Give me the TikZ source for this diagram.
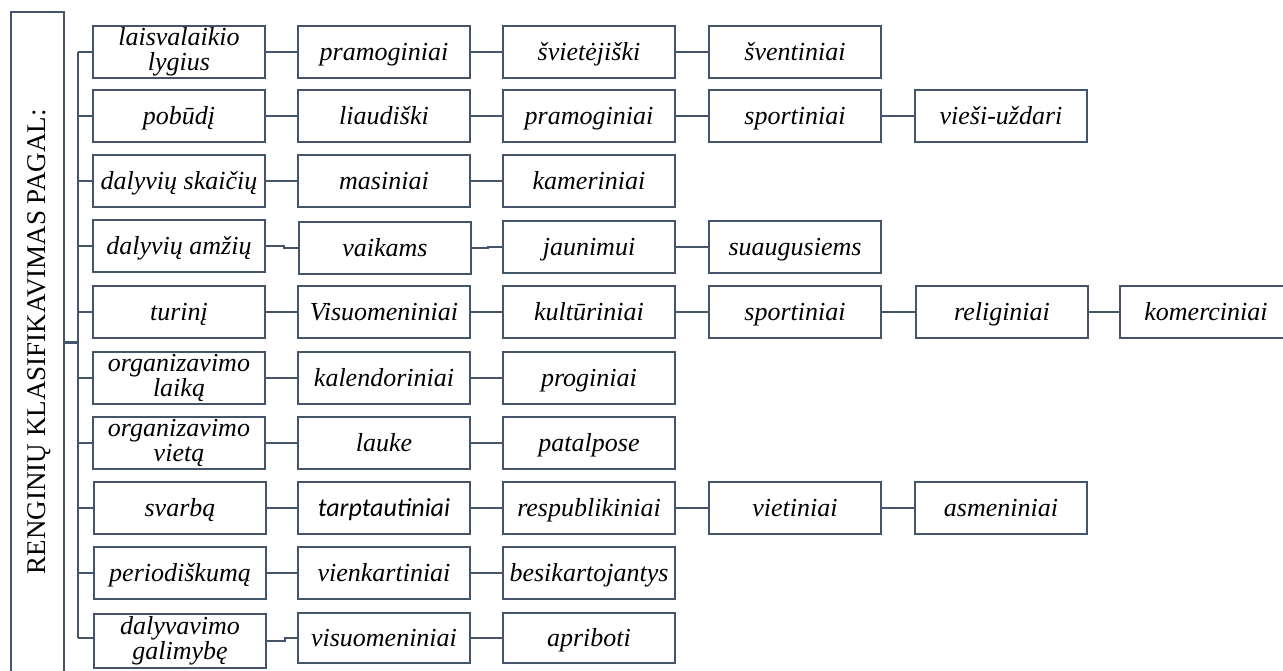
\documentclass[tikz,border=0pt]{standalone}
\usepackage{fontspec}
\setmainfont{Liberation Serif}
\newfontfamily\carlitofont{Carlito}
\definecolor{ln}{HTML}{44546A}
\tikzset{
  box/.style={draw=ln, line width=2pt, fill=white, minimum width=172pt, minimum height=52pt,
    inner sep=0pt, font=\fontsize{26pt}{25pt}\selectfont\itshape, align=center},
  one/.style={text height=22pt, text depth=6pt},
  conn/.style={draw=ln, line width=2pt},
  mainbox/.style={draw=ln, line width=2pt, minimum width=53pt, minimum height=690pt, inner sep=0pt, anchor=north west},
  mainlabel/.style={rotate=90, anchor=base, inner sep=0pt, font=\fontsize{27pt}{27pt}\selectfont},
}
\begin{document}
\begin{tikzpicture}[x=1pt,y=-1pt]
\useasboundingbox (0,0) rectangle (1283,670);

% main vertical box
\node[mainbox] (main) at (10,11) {};
\node[mainlabel] (mainlab) at (45,341.5) {RENGINIŲ KLASIFIKAVIMAS PAGAL:};

% trunk coordinates
\coordinate (t0) at (78,342);
\coordinate (t1) at (78,52);
\coordinate (t2) at (78,116);
\coordinate (t3) at (78,181);
\coordinate (t4) at (78,246);
\coordinate (t5) at (78,312);
\coordinate (t6) at (78,378);
\coordinate (t7) at (78,443);
\coordinate (t8) at (78,508);
\coordinate (t9) at (78,573);
\coordinate (t10) at (78,638);

% row 1
\node[box] (r1c1) at (179,52) {laisvalaikio\\lygius};
\node[box,one] (r1c2) at (384,52) {pramoginiai};
\node[box,one] (r1c3) at (589,52) {švietėjiški};
\node[box,one] (r1c4) at (795,52) {šventiniai};
% row 2
\node[box,one] (r2c1) at (179,116) {pobūdį};
\node[box,one] (r2c2) at (384,116) {liaudiški};
\node[box,one] (r2c3) at (589,116) {pramoginiai};
\node[box,one] (r2c4) at (795,116) {sportiniai};
\node[box,one] (r2c5) at (1001,116) {vieši-uždari};
% row 3
\node[box,one] (r3c1) at (179,181) {dalyvių skaičių};
\node[box,one] (r3c2) at (384,181) {masiniai};
\node[box,one] (r3c3) at (589,181) {kameriniai};
% row 4
\node[box,one] (r4c1) at (179,246) {dalyvių amžių};
\node[box,one] (r4c2) at (385,248) {vaikams};
\node[box,one] (r4c3) at (589,247) {jaunimui};
\node[box,one] (r4c4) at (795,247) {suaugusiems};
% row 5
\node[box,one] (r5c1) at (179,312) {turinį};
\node[box,one] (r5c2) at (384,312) {Visuomeniniai};
\node[box,one] (r5c3) at (589,312) {kultūriniai};
\node[box,one] (r5c4) at (795,312) {sportiniai};
\node[box,one] (r5c5) at (1002,312) {religiniai};
\node[box,one] (r5c6) at (1206,312) {komerciniai};
% row 6
\node[box] (r6c1) at (179,378) {organizavimo\\laiką};
\node[box,one] (r6c2) at (384,378) {kalendoriniai};
\node[box,one] (r6c3) at (589,378) {proginiai};
% row 7
\node[box] (r7c1) at (179,443) {organizavimo\\vietą};
\node[box,one] (r7c2) at (384,443) {lauke};
\node[box,one] (r7c3) at (589,443) {patalpose};
% row 8
\node[box,one] (r8c1) at (180,508) {svarbą};
\node[box,one,font=\fontsize{26pt}{25pt}\selectfont\carlitofont\itshape] (r8c2) at (384,508) {tarptautiniai};
\node[box,one] (r8c3) at (589,508) {respublikiniai};
\node[box,one] (r8c4) at (795,508) {vietiniai};
\node[box,one] (r8c5) at (1001,508) {asmeniniai};
% row 9
\node[box,one] (r9c1) at (180,573) {periodiškumą};
\node[box,one] (r9c2) at (384,573) {vienkartiniai};
\node[box,one] (r9c3) at (589,573) {besikartojantys};
% row 10
\node[box,minimum height=54pt] (r10c1) at (180,641) {dalyvavimo\\galimybę};
\node[box,one,minimum height=50pt] (r10c2) at (384,638) {visuomeniniai};
\node[box,one,minimum height=50pt] (r10c3) at (589,638) {apriboti};

% trunk
\draw[conn] (t1) -- (t10);
\draw[draw=ln, line width=3pt] (main.east |- t0) -- (t0);
\foreach \i in {1,...,9} { \draw[conn] (t\i) -- (r\i c1.west); }
\draw[conn] (t10) -- (t10 -| r10c1.west);

% row connectors
\draw[conn] (r1c1) -- (r1c2);
\draw[conn] (r1c2) -- (r1c3);
\draw[conn] (r1c3) -- (r1c4);
\draw[conn] (r2c1) -- (r2c2);
\draw[conn] (r2c2) -- (r2c3);
\draw[conn] (r2c3) -- (r2c4);
\draw[conn] (r2c4) -- (r2c5);
\draw[conn] (r3c1) -- (r3c2);
\draw[conn] (r3c2) -- (r3c3);
\draw[conn] (r4c1.east) -- ++(18,0) |- (r4c2.west);
\draw[conn] (r4c2.east) -- ++(16,0) |- (r4c3.west);
\draw[conn] (r4c3) -- (r4c4);
\draw[conn] (r5c1) -- (r5c2);
\draw[conn] (r5c2) -- (r5c3);
\draw[conn] (r5c3) -- (r5c4);
\draw[conn] (r5c4) -- (r5c5);
\draw[conn] (r5c5) -- (r5c6);
\draw[conn] (r6c1) -- (r6c2);
\draw[conn] (r6c2) -- (r6c3);
\draw[conn] (r7c1) -- (r7c2);
\draw[conn] (r7c2) -- (r7c3);
\draw[conn] (r8c1) -- (r8c2);
\draw[conn] (r8c2) -- (r8c3);
\draw[conn] (r8c3) -- (r8c4);
\draw[conn] (r8c4) -- (r8c5);
\draw[conn] (r9c1) -- (r9c2);
\draw[conn] (r9c2) -- (r9c3);
\draw[conn] (r10c1.east) -- ++(18,0) |- (r10c2.west);
\draw[conn] (r10c2) -- (r10c3);
\end{tikzpicture}
\end{document}
